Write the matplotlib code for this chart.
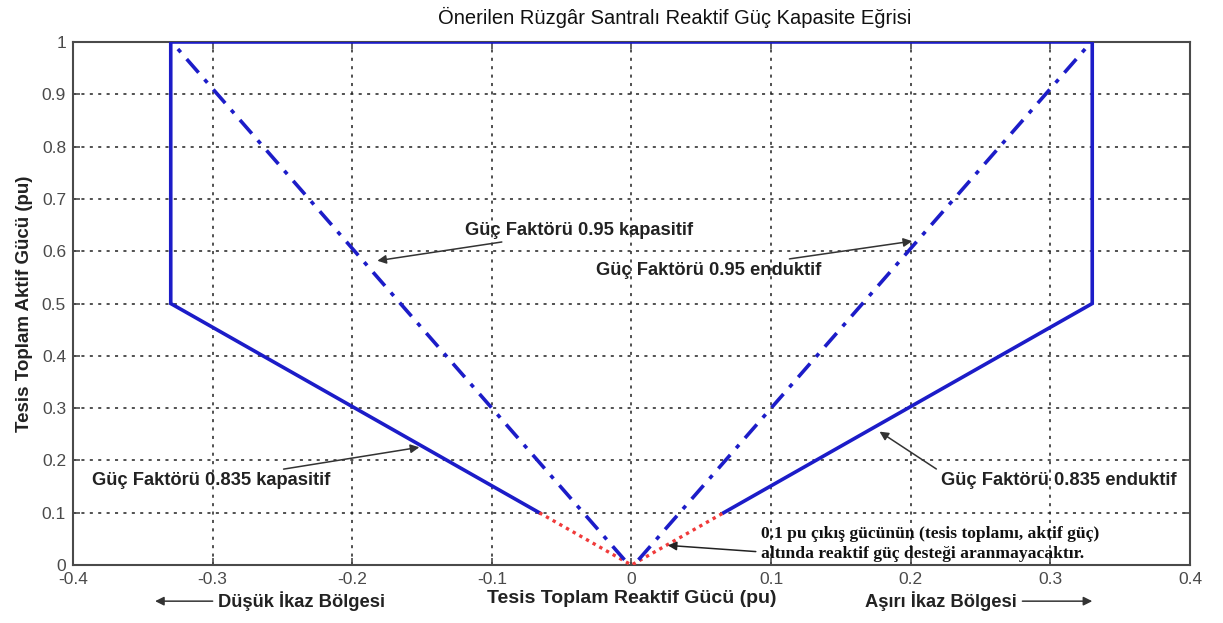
import matplotlib.pyplot as plt

# capability curve outline (reactive Q, active P) in pu
q_outline = [-0.066, -0.33, -0.33, 0.33, 0.33, 0.066]
p_outline = [0.1, 0.5, 1.0, 1.0, 0.5, 0.1]

# below 0.1 pu no reactive support required
q_low = [-0.066, 0.0, 0.066]
p_low = [0.1, 0.0, 0.1]

# power factor 0.95 lines
q_pf95_cap = [-0.005, -0.326]
p_pf95_cap = [0.01, 0.99]
q_pf95_ind = [0.005, 0.326]
p_pf95_ind = [0.01, 0.99]

xticks = [-0.4, -0.3, -0.2, -0.1, 0, 0.1, 0.2, 0.3, 0.4]
xticklabels = ['-0.4', '-0.3', '-0.2', '-0.1', '0', '0.1', '0.2', '0.3', '0.4']
yticks = [0, 0.1, 0.2, 0.3, 0.4, 0.5, 0.6, 0.7, 0.8, 0.9, 1]
yticklabels = ['0', '0.1', '0.2', '0.3', '0.4', '0.5', '0.6', '0.7', '0.8', '0.9', '1']

blue = '#1c1cc8'
red = '#f03a3a'
gray = '#4a4a4a'
plt.rcParams['font.family'] = ['Liberation Sans', 'DejaVu Sans']

fig = plt.figure(figsize=(12.23, 6.23), dpi=100)
ax = fig.add_axes([0.0597, 0.093, 0.9133, 0.8396])

ax.plot(q_outline, p_outline, color=blue, lw=2.6, solid_joinstyle='miter', zorder=3)
ax.plot(q_low, p_low, color=red, lw=2.4, linestyle=(0, (1, 1.3)), zorder=3)
ax.plot(q_pf95_cap, p_pf95_cap, color=blue, lw=2.6, linestyle=(0, (5, 2.5, 1.2, 2.5)), zorder=3)
ax.plot(q_pf95_ind, p_pf95_ind, color=blue, lw=2.6, linestyle=(0, (5, 2.5, 1.2, 2.5)), zorder=3)

ax.set_xlim(-0.4, 0.4)
ax.set_ylim(0, 1)
ax.set_xticks(xticks)
ax.set_xticklabels(xticklabels)
ax.set_yticks(yticks)
ax.set_yticklabels(yticklabels)
ax.tick_params(direction='in', top=True, right=True, length=5, width=1.2,
               colors=gray, labelsize=12.5, pad=5)
for s in ax.spines.values():
    s.set_color(gray)
    s.set_linewidth(1.5)
ax.grid(True, color='#222222', linestyle=(0, (2, 3.5)), linewidth=1.1)
ax.set_axisbelow(True)

ax.text(0.539, 1.047, 'Önerilen Rüzgâr Santralı Reaktif Güç Kapasite Eğrisi',
        transform=ax.transAxes, ha='center', va='center',
        fontsize=14.5, color='#111111')
ax.set_xlabel('Tesis Toplam Reaktif Gücü (pu)', fontsize=14, fontweight='bold',
              color='#222222', labelpad=2)
ax.set_ylabel('Tesis Toplam Aktif Gücü (pu)', fontsize=13.5, fontweight='bold',
              color='#222222', labelpad=6)

arrow = dict(arrowstyle='-|>', color='#333333', lw=1.1, mutation_scale=13)
txt = dict(fontsize=13.2, fontweight='bold', color='#222222', va='center')

ax.annotate('Güç Faktörü 0.95 kapasitif', xy=(-0.184, 0.581), xytext=(-0.119, 0.64),
            ha='left', arrowprops=arrow, **txt)
ax.annotate('Güç Faktörü 0.95 enduktif', xy=(0.203, 0.62), xytext=(0.136, 0.563),
            ha='right', arrowprops=arrow, **txt)
ax.annotate('Güç Faktörü 0.835 kapasitif', xy=(-0.150, 0.226), xytext=(-0.216, 0.161),
            ha='right', arrowprops=arrow, **txt)
ax.annotate('Güç Faktörü 0.835 enduktif', xy=(0.176, 0.258), xytext=(0.222, 0.161),
            ha='left', arrowprops=dict(arrowstyle='-|>', color='#333333', lw=1.1,
                                       mutation_scale=13, relpos=(0, 1)), **txt)
ax.annotate('0.1 pu çıkış gücünün (tesis toplamı, aktif güç)\naltında reaktif güç desteği aranmayacaktır.',
            xy=(0.024, 0.038), xytext=(0.093, 0.04), ha='left',
            fontsize=12.6, fontweight='bold', family='Liberation Serif',
            color='#111111', va='center', linespacing=1.3,
            arrowprops=dict(arrowstyle='-|>', color='#222222', lw=1.1,
                            mutation_scale=13, relpos=(0, 0.28)))

# excitation region labels below the axis
ax.annotate('Düşük İkaz Bölgesi', xy=(0.071, -0.069), xytext=(0.130, -0.069),
            xycoords='axes fraction', textcoords='axes fraction', ha='left',
            annotation_clip=False, arrowprops=arrow, **txt)
ax.annotate('Aşırı İkaz Bölgesi', xy=(0.915, -0.069), xytext=(0.845, -0.069),
            xycoords='axes fraction', textcoords='axes fraction', ha='right',
            annotation_clip=False, arrowprops=arrow, **txt)

fig.savefig('out.png', dpi=100)
